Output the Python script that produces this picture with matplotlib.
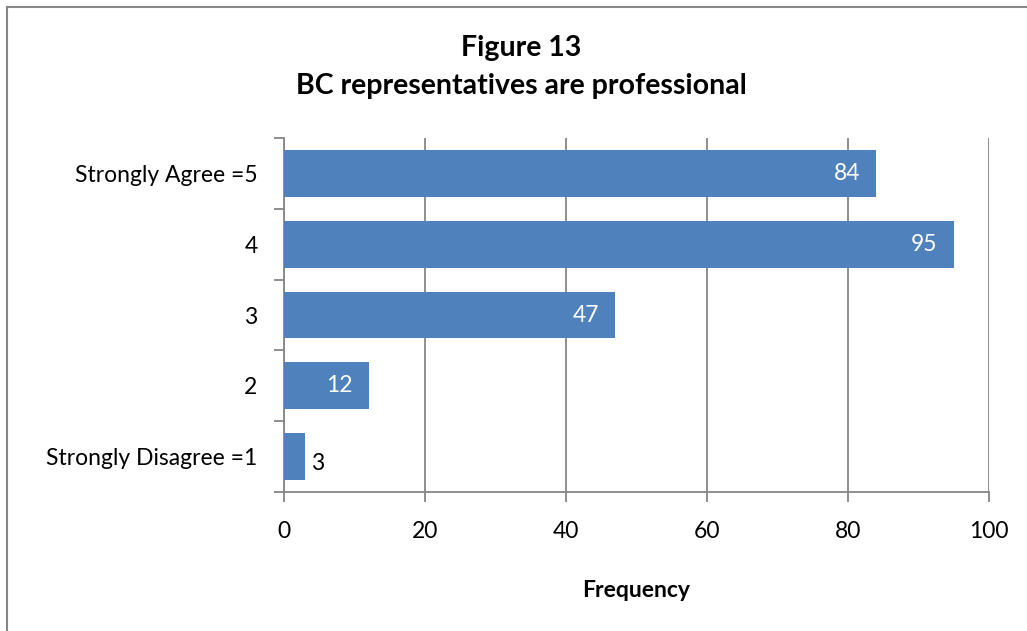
import matplotlib
matplotlib.use("Agg")
import matplotlib.pyplot as plt
from matplotlib.lines import Line2D

categories = ["Strongly Disagree =1", "2", "3", "4", "Strongly Agree =5"]
values = [3, 12, 47, 95, 84]
x_ticks = [0, 20, 40, 60, 80, 100]

title = "Figure 13\nBC representatives are professional"
x_label = "Frequency"

bar_color = "#4F81BD"
grid_color = "#868686"

plt.rcParams["font.family"] = ["Lato", "DejaVu Sans"]
fs = 16.5

fig = plt.figure(figsize=(10.27, 6.31), dpi=100)
ax = fig.add_axes([284 / 1027, 1 - 492 / 631, (989 - 284) / 1027, (492 - 138) / 631])

ypos = list(range(len(categories)))
ax.barh(ypos, values, height=0.66, color=bar_color, zorder=3)

ax.set_xlim(0, 100)
ax.set_ylim(-0.5, len(categories) - 0.5)
ax.set_xticks(x_ticks)
ax.set_xticklabels([str(t) for t in x_ticks], fontsize=fs)
ax.set_yticks(ypos)
ax.set_yticklabels(categories, fontsize=fs)
ax.set_yticks([i - 0.5 for i in range(len(categories) + 1)], minor=True)

ax.tick_params(axis="y", which="major", length=0, pad=19)
ax.tick_params(axis="y", which="minor", length=7, width=1.3, color=grid_color)
ax.tick_params(axis="x", which="major", length=7, width=1.3, color=grid_color, pad=14)

ax.xaxis.grid(True, color=grid_color, linewidth=1.3, zorder=0)
for side in ("top", "right"):
    ax.spines[side].set_visible(False)
for side in ("left", "bottom"):
    ax.spines[side].set_color(grid_color)
    ax.spines[side].set_linewidth(1.3)

for y, v in zip(ypos, values):
    if v >= 10:
        ax.text(v - 2.3, y, str(v), ha="right", va="center", color="white",
                fontsize=fs, zorder=4)
    else:
        ax.text(v + 0.8, y - 0.1, str(v), ha="left", va="center", color="black",
                fontsize=fs, zorder=4)

ax.set_xlabel(x_label, fontsize=fs, fontweight="bold", labelpad=27)

fig.text(521 / 1027, 1 - 67 / 631, title, ha="center", va="center",
         fontsize=20.5, fontweight="bold", linespacing=1.6)

# Chart frame along the left and top edges
fig.add_artist(Line2D([7 / 1027, 7 / 1027], [0, 1 - 7 / 631], transform=fig.transFigure,
                      color=grid_color, linewidth=1.5))
fig.add_artist(Line2D([7 / 1027, 1], [1 - 7 / 631, 1 - 7 / 631], transform=fig.transFigure,
                      color=grid_color, linewidth=1.5))

fig.savefig("out.png", dpi=100)
